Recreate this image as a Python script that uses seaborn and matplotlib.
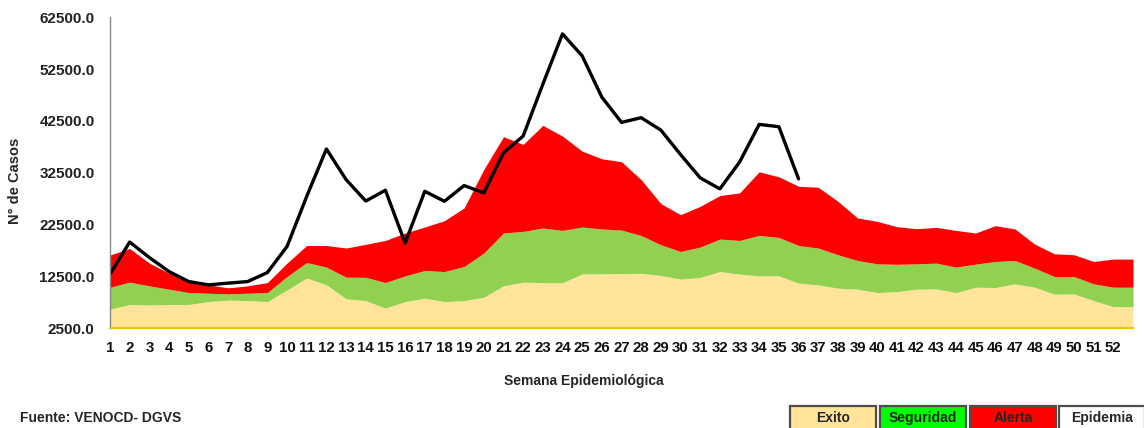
import numpy as np
import pandas as pd
import seaborn as sns
import matplotlib.pyplot as plt
from matplotlib.patches import Rectangle

# Weeks (53 points so the band closes on the last tick)
semanas = list(range(1, 54))
etiquetas = [str(s) for s in range(1, 53)] + [""]

# Upper limit of each zone of the endemic channel
exito = [6200, 7100, 7000, 7100, 7100, 7650, 7950, 7840, 7650, 9900,
         12200, 10900, 8200, 7840, 6400, 7650, 8300, 7650, 7840, 8500,
         10700, 11400, 11300, 11300, 13000, 13000, 13050, 13100, 12700, 12000,
         12300, 13450, 12950, 12620, 12620, 11210, 10880, 10240, 10050, 9390,
         9580, 10050, 10100, 9390, 10430, 10360, 11070, 10430, 9080, 9140,
         7840, 6680, 6680]
seguridad = [10400, 11400, 10690, 10046, 9390, 9270, 9140, 9270, 9400, 12490,
             15200, 14300, 12370, 12330, 11330, 12620, 13650, 13450, 14420, 17010,
             20880, 21200, 21850, 21390, 22040, 21660, 21450, 20400, 18620, 17320,
             18170, 19720, 19450, 20420, 20030, 18480, 17980, 16690, 15580, 14940,
             14850, 14940, 15080, 14300, 14880, 15390, 15580, 14110, 12490, 12490,
             11070, 10430, 10430]
alerta = [16650, 17900, 15080, 13140, 11800, 10900, 10300, 10690, 11320, 15080,
          18480, 18480, 17980, 18700, 19450, 20880, 22040, 23260, 25720, 33130,
          39460, 37970, 41650, 39580, 36670, 35200, 34640, 31170, 26550, 24420,
          26030, 28100, 28620, 32690, 31720, 29900, 29710, 27000, 23780, 23130,
          22100, 21720, 21970, 21390, 20880, 22300, 21660, 18750, 16880, 16690,
          15390, 15850, 15850]

# Observed cases, weeks 1-36
casos = [12950, 19140, 16160, 13450, 11520, 10880, 11210, 11520, 13260, 18290,
         27960, 37100, 31200, 27050, 29130, 18950, 28930, 27000, 30040, 28620,
         36360, 39580, 49580, 59300, 55060, 47100, 42230, 43130, 40740, 36030,
         31525, 29400, 34550, 41840, 41390, 31330]

y_ticks = [2500, 12500, 22500, 32500, 42500, 52500, 62500]
y_min, y_max = 2500, 62500

zonas = ["Exito", "Seguridad", "Alerta", "Epidemia"]
colores_zona = ["#FFE499", "#92D050", "#FF0000", "#FFFFFF"]
colores_leyenda = ["#FFE499", "#00FF00", "#FF0000", "#FFFFFF"]

sns.set_style("white")
plt.rcParams["font.family"] = ["Liberation Sans", "DejaVu Sans"]
plt.rcParams["font.weight"] = "bold"

fig = plt.figure(figsize=(11.44, 4.28), dpi=100)
ax = fig.add_axes([110 / 1144, 1 - 328.3 / 428, 1023 / 1144, 311 / 428])

ax.fill_between(semanas, y_min, exito, color=colores_zona[0], lw=0)
ax.fill_between(semanas, exito, seguridad, color=colores_zona[1], lw=0)
ax.fill_between(semanas, seguridad, alerta, color=colores_zona[2], lw=0)

df = pd.DataFrame({"semana": semanas[:len(casos)], "casos": casos})
sns.lineplot(data=df, x="semana", y="casos", color="black", lw=2.4, ax=ax)

ax.set_xlim(1, 53)
ax.set_ylim(y_min, y_max)
ax.set_xticks(semanas)
ax.set_xticklabels(etiquetas, fontsize=10.8, fontweight="bold", color="#111111")
ax.set_yticks(y_ticks)
ax.set_yticklabels([f"{v:.1f}" for v in y_ticks], fontsize=11,
                   fontweight="bold", color="#222222")
ax.tick_params(axis="x", direction="out", length=5, width=0.8, color="#666666", pad=4)
ax.tick_params(axis="y", direction="out", length=4, width=0.8, color="#666666", pad=7)

for s in ["top", "right"]:
    ax.spines[s].set_visible(False)
ax.spines["left"].set_color("#888888")
ax.spines["left"].set_linewidth(1)
ax.spines["bottom"].set_color("#E8C800")
ax.spines["bottom"].set_linewidth(1.6)

ax.set_xlabel("")
ax.set_ylabel("")
fig.text(15 / 1144, 1 - 181 / 428, "N° de Casos", rotation=90, ha="center",
         va="center", fontsize=10.5, fontweight="bold")
fig.text(584 / 1144, 1 - 381 / 428, "Semana Epidemiológica", ha="center",
         va="center", fontsize=10, fontweight="bold")
fig.text(20 / 1144, 1 - 418 / 428, "Fuente: VENOCD- DGVS", ha="left",
         va="center", fontsize=10, fontweight="bold")

# Legend boxes
cajas_x = [790, 880, 970, 1059]
for x0, nombre, col in zip(cajas_x, zonas, colores_leyenda):
    fig.patches.append(Rectangle((x0 / 1144, -0.02), 86 / 1144, 0.02 + 22 / 428,
                                 transform=fig.transFigure, facecolor=col,
                                 edgecolor="#4d4d4d", lw=1.6))
    fig.text((x0 + 43) / 1144, 1 - 418 / 428, nombre, ha="center", va="center",
             fontsize=10, fontweight="bold")

fig.savefig("out.png", dpi=100)
